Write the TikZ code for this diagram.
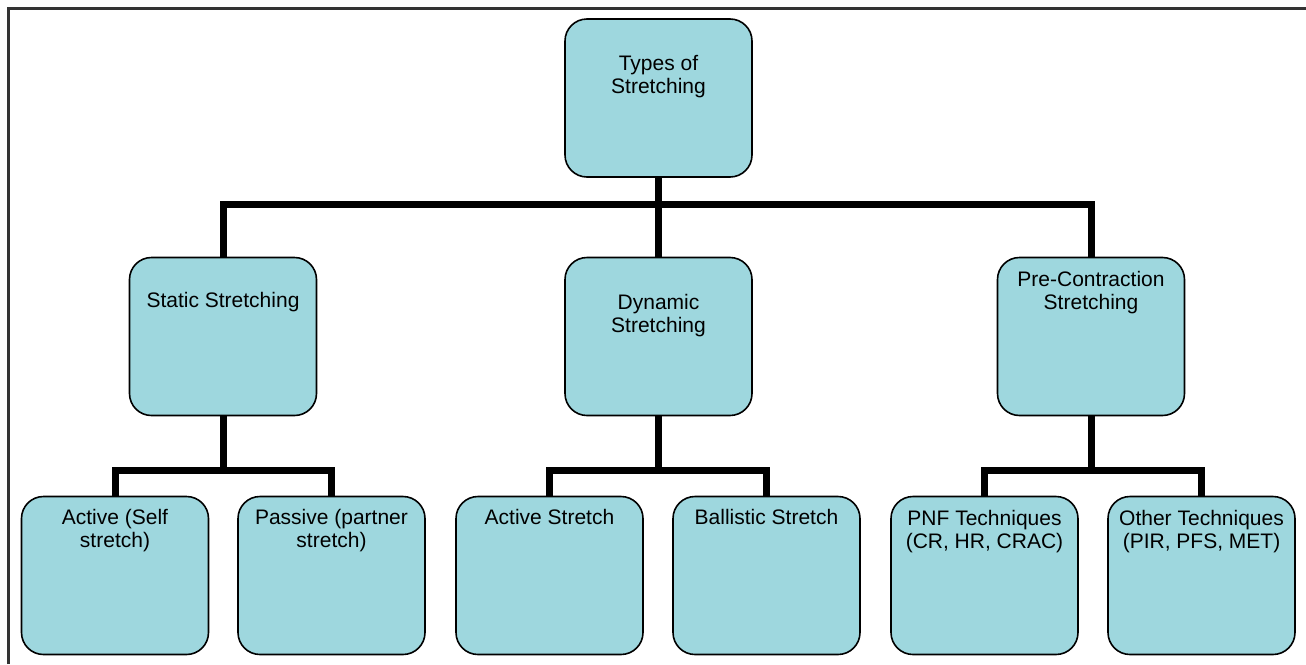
\documentclass[tikz,border=0pt]{standalone}
\usepackage{fontspec}
\setmainfont{Liberation Sans}
\definecolor{boxfill}{RGB}{158,215,222}
\tikzset{
  stretchbox/.style={draw=black, line width=1.6pt, fill=boxfill, rounded corners=22pt,
    minimum width=187pt, minimum height=158pt, inner sep=0pt},
  lbl/.style={font=\fontsize{21}{23}\selectfont, align=center, inner sep=0pt, anchor=north},
  conn/.style={line width=7pt, line join=miter}
}
\begin{document}
\begin{tikzpicture}[x=1pt,y=-1pt]
      \useasboundingbox (0,0) rectangle (1306,664) ;
      \draw[line width=3pt, black!80] (8.5,664)--(8.5,8.5)--(1306,8.5) ;
      % level 0
      \node[stretchbox, label={[lbl,yshift=-37pt]north:{Types of\\Stretching}}] %
      (types) at (658.5,98) {} ;
      % level 1
      \node[stretchbox, label={[lbl,yshift=-35pt]north:{Static Stretching}}] %
      (static) at (223,336.5) {} ;
      \node[stretchbox, label={[lbl,yshift=-37pt]north:{Dynamic\\Stretching}}] %
      (dynamic) at (658.5,336.5) {} ;
      \node[stretchbox, label={[lbl,yshift=-14pt]north:{Pre-Contraction\\Stretching}}] %
      (precon) at (1091,336.5) {} ;
      % level 2
      \node[stretchbox, label={[lbl,yshift=-13pt]north:{Active (Self\\stretch)}}] %
      (selfst) at (115,575.5) {} ;
      \node[stretchbox, label={[lbl,yshift=-13pt]north:{Passive (partner\\stretch)}}] %
      (partner) at (331.5,575.5) {} ;
      \node[stretchbox, label={[lbl,yshift=-13pt]north:{Active Stretch}}] %
      (activest) at (549.5,575.5) {} ;
      \node[stretchbox, label={[lbl,yshift=-13pt]north:{Ballistic Stretch}}] %
      (ballistic) at (766.5,575.5) {} ;
      \node[stretchbox, label={[lbl,yshift=-14pt]north:{PNF Techniques\\(CR, HR, CRAC)}}] %
      (pnf) at (984.5,575.5) {} ;
      \node[stretchbox, label={[lbl,yshift=-14pt]north:{Other Techniques\\(PIR, PFS, MET)}}] %
      (other) at (1201.5,575.5) {} ;
      % connectors
      \foreach \kid in {static,dynamic,precon}
        \draw[conn] (types.south) -- ++(0,27) -| (\kid.north) ;
      \foreach \mom/\kid in {static/selfst,static/partner,dynamic/activest,%
        dynamic/ballistic,precon/pnf,precon/other}
        \draw[conn] (\mom.south) -- ++(0,54) -| (\kid.north) ;
    \end{tikzpicture}
\end{document}
